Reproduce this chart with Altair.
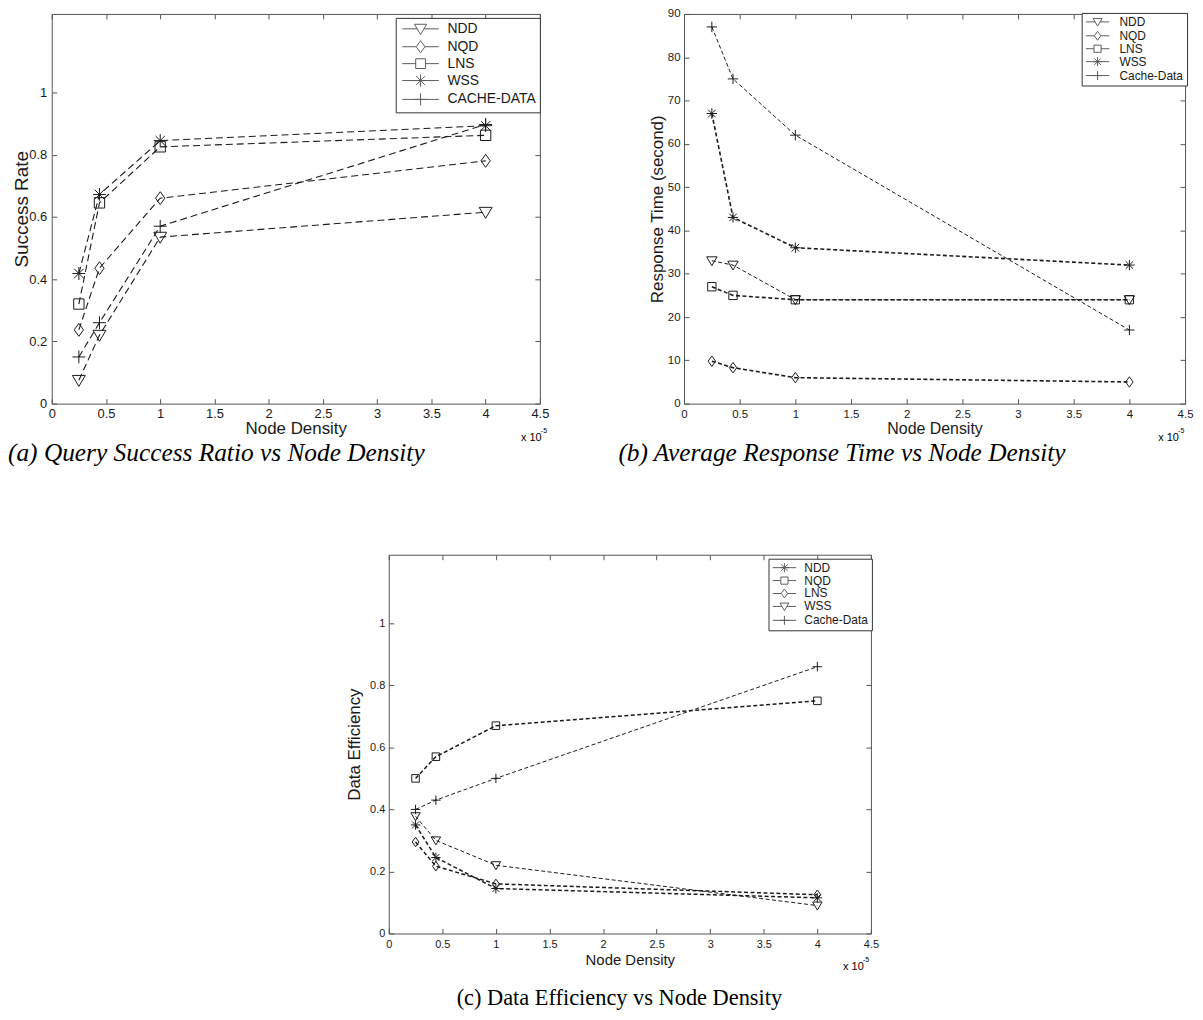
import altair as alt
import pandas as pd

# ---------------- data ----------------
x_vals = [0.25, 0.44, 1.0, 4.0]
x_ticks = [0, 0.5, 1, 1.5, 2, 2.5, 3, 3.5, 4, 4.5]

a_series = ["NDD", "NQD", "LNS", "WSS", "CACHE-DATA"]
a_ndd = [0.075, 0.22, 0.535, 0.615]
a_nqd = [0.237, 0.435, 0.66, 0.78]
a_lns = [0.32, 0.645, 0.825, 0.862]
a_wss = [0.418, 0.672, 0.845, 0.893]
a_cache = [0.15, 0.26, 0.57, 0.897]
a_y_ticks = [0, 0.2, 0.4, 0.6, 0.8, 1]

b_series = ["NDD", "NQD", "LNS", "WSS", "Cache-Data"]
b_ndd = [33, 32, 24, 24]
b_nqd = [9.8, 8.3, 6.0, 5.0]
b_lns = [27, 25, 24, 24]
b_wss = [67, 43, 36, 32]
b_cache = [87, 75, 62, 17]
b_y_ticks = [0, 10, 20, 30, 40, 50, 60, 70, 80, 90]

c_series = ["NDD", "NQD", "LNS", "WSS", "Cache-Data"]
c_ndd = [0.35, 0.245, 0.145, 0.115]
c_nqd = [0.5, 0.57, 0.67, 0.75]
c_lns = [0.295, 0.217, 0.16, 0.125]
c_wss = [0.378, 0.3, 0.22, 0.09]
c_cache = [0.4, 0.43, 0.5, 0.86]
c_y_ticks = [0, 0.2, 0.4, 0.6, 0.8, 1]

x_title = "Node Density"
a_y_title = "Success Rate"
b_y_title = "Response Time (second)"
c_y_title = "Data Efficiency"
cap_a = "(a) Query Success Ratio vs Node Density"
cap_b = "(b) Average Response Time vs Node Density"
cap_c = "(c) Data Efficiency vs Node Density"
exp_base = "x 10"
exp_sup = "-5"

# ---------------- style ----------------
W, H = 1194, 1004
SANS = "Liberation Sans"
SERIF = "Liberation Serif"
FRAME = "#555555"
INK = "#1a1a1a"

TRI = "M-1,-0.75L1,-0.75L0,0.95Z"
DIA = "M0,-1L0.72,0L0,1L-0.72,0Z"
SQ = "M-0.8,-0.8L0.8,-0.8L0.8,0.8L-0.8,0.8Z"
AST = "M-1,0L1,0M0,-1L0,1M-0.72,-0.72L0.72,0.72M-0.72,0.72L0.72,-0.72"
PLUS = "M-1,0L1,0M0,-1L0,1"
GAP = {TRI: 0.56, DIA: 0.72, SQ: 0.8, AST: 0.0, PLUS: 0.0}


def leg_path(p, L):
    g = GAP[p]
    return f"M{-L},0L{-g},0M{g},0L{L},0" + p


def long_df(series, values):
    rows = []
    for s, vals in zip(series, values):
        for xv, yv in zip(x_vals, vals):
            rows.append({"s": s, "x": xv, "y": yv})
    return pd.DataFrame(rows)


df_a = long_df(a_series, [a_ndd, a_nqd, a_lns, a_wss, a_cache])
df_b = long_df(b_series, [b_ndd, b_nqd, b_lns, b_wss, b_cache])
df_c = long_df(c_series, [c_ndd, c_nqd, c_lns, c_wss, c_cache])

PANELS = [
    dict(df=df_a, series=a_series, yticks=a_y_ticks, ytitle=a_y_title, fmt="~g",
         xr=[44, 535], yb=395, yt=3, ymax=1.252, size=169, dash=[7, 4],
         thin_w=1.1, bold=[], bold_w=1.1,
         lfs=13, xtfs=17, ytfs=19, lpx=4, lpy=5, tpx=0, tpy=-3,
         shapes=[TRI, DIA, SQ, AST, PLUS],
         leg=dict(x=390, y=7, fs=14, sym=150, symoff=14, laboff=20, rowpad=1, L=3.0, pad=4)),
    dict(df=df_b, series=b_series, yticks=b_y_ticks, ytitle=b_y_title, fmt="d",
         xr=[680, 1184], yb=395, yt=3, ymax=90, size=110, dash=[4, 2.5],
         thin_w=1.0, bold=["NQD", "LNS", "WSS"], bold_w=1.6,
         lfs=11.5, xtfs=16, ytfs=17, lpx=5, lpy=4, tpx=1, tpy=1,
         shapes=[TRI, DIA, SQ, AST, PLUS],
         leg=dict(x=1080, y=2, fs=12, sym=81, symoff=7, laboff=16, rowpad=0, L=2.6, pad=3)),
    dict(df=df_c, series=c_series, yticks=c_y_ticks, ytitle=c_y_title, fmt="~g",
         xr=[383, 868], yb=928, yt=547, ymax=1.221, size=90, dash=[4, 2.5],
         thin_w=1.0, bold=["NDD", "NQD", "LNS"], bold_w=1.5,
         lfs=11, xtfs=15, ytfs=17, lpx=5, lpy=4, tpx=3, tpy=6,
         shapes=[AST, SQ, DIA, TRI, PLUS],
         leg=dict(x=765, y=551, fs=12, sym=81, symoff=7, laboff=14, rowpad=0, L=2.6, pad=3)),
]

COMMON = dict(grid=False, domainColor=FRAME, tickColor=FRAME, domainWidth=1, tickWidth=1,
              labelFont=SANS, labelColor=INK, titleFont=SANS, titleColor=INK,
              titleFontWeight="normal")


def panel_layers(p):
    df = p["df"]
    xs = alt.Scale(domain=[0, 4.5], range=p["xr"], nice=False, zero=False)
    ys = alt.Scale(domain=[0, p["ymax"]], range=[p["yb"], p["yt"]], nice=False, zero=False)
    xl, xrgt = p["xr"]
    layers = []

    # main labelled axes (bottom / left)
    ax_x = alt.Axis(orient="bottom", offset=p["yb"] - H, values=x_ticks, format="~g",
                    title=x_title, labelFontSize=p["lfs"], titleFontSize=p["xtfs"],
                    tickSize=0, labelPadding=p["lpx"], titlePadding=p["tpx"],
                    labelFlush=False, labelOverlap=False, **COMMON)
    ax_y = alt.Axis(orient="left", offset=-xl, values=p["yticks"], format=p["fmt"],
                    title=p["ytitle"], labelFontSize=p["lfs"], titleFontSize=p["ytfs"],
                    tickSize=0, labelPadding=p["lpy"], titlePadding=p["tpy"],
                    labelFlush=False, labelOverlap=False, **COMMON)
    thin_df = df[~df["s"].isin(p["bold"])]
    layers.append(
        alt.Chart(thin_df).mark_line(strokeDash=p["dash"], color=INK, strokeWidth=p["thin_w"])
        .encode(x=alt.X("x:Q", scale=xs, axis=ax_x), y=alt.Y("y:Q", scale=ys, axis=ax_y),
                detail="s:N")
    )
    if p["bold"]:
        bold_df = df[df["s"].isin(p["bold"])]
        layers.append(
            alt.Chart(bold_df).mark_line(strokeDash=p["dash"], color=INK, strokeWidth=p["bold_w"])
            .encode(x=alt.X("x:Q", scale=xs, axis=None), y=alt.Y("y:Q", scale=ys, axis=None),
                    detail="s:N")
        )

    # inward ticks on bottom and left edges
    ax_x_in = alt.Axis(orient="top", offset=-p["yb"], values=x_ticks, labels=False, title=None,
                       tickSize=5, domain=False, **COMMON)
    ax_y_in = alt.Axis(orient="right", offset=xl - W, values=p["yticks"], labels=False, title=None,
                       tickSize=5, domain=False, **COMMON)
    layers.append(
        alt.Chart(df).mark_point(filled=False, size=p["size"], color=INK, strokeWidth=1, opacity=1)
        .encode(x=alt.X("x:Q", scale=xs, axis=ax_x_in), y=alt.Y("y:Q", scale=ys, axis=ax_y_in),
                shape=alt.Shape("s:N", scale=alt.Scale(domain=p["series"], range=p["shapes"]),
                                legend=None))
    )

    # top and right frame with inward ticks + legend
    ax_x_top = alt.Axis(orient="bottom", offset=p["yt"] - H, values=x_ticks, labels=False, title=None,
                        tickSize=5, domain=True, **COMMON)
    ax_y_rgt = alt.Axis(orient="left", offset=-xrgt, values=p["yticks"], labels=False, title=None,
                        tickSize=5, domain=True, **COMMON)
    lg = p["leg"]
    legend = alt.Legend(orient="none", legendX=lg["x"], legendY=lg["y"], title=None,
                        strokeColor="#333333", fillColor="white", padding=lg["pad"],
                        cornerRadius=0, labelFont=SANS, labelFontSize=lg["fs"], labelColor=INK,
                        symbolSize=lg["sym"], symbolStrokeColor=INK, symbolStrokeWidth=1,
                        symbolFillColor="transparent", symbolOffset=lg["symoff"],
                        labelOffset=lg["laboff"], rowPadding=lg["rowpad"])
    layers.append(
        alt.Chart(df).transform_filter("false")
        .mark_point(filled=False, size=lg["sym"], color=INK, strokeWidth=1)
        .encode(x=alt.X("x:Q", scale=xs, axis=ax_x_top), y=alt.Y("y:Q", scale=ys, axis=ax_y_rgt),
                shape=alt.Shape("s:N", scale=alt.Scale(domain=p["series"],
                                                        range=[leg_path(s, lg["L"]) for s in p["shapes"]]),
                                legend=legend))
    )
    return layers


def text_layer(txt, x, y, font, size, style="normal", align="left"):
    return alt.Chart(pd.DataFrame({"t": [txt]})).mark_text(
        font=font, fontSize=size, fontStyle=style, align=align, baseline="middle", color="black"
    ).encode(text="t:N", x=alt.value(x), y=alt.value(y))


layers = []
for p in PANELS:
    layers += panel_layers(p)

layers += [
    text_layer(cap_a, 0, 445, SERIF, 25.5, "italic"),
    text_layer(cap_b, 614, 445, SERIF, 25.5, "italic"),
    text_layer(cap_c, 615, 993, SERIF, 22.5, "normal", "center"),
    text_layer(exp_base, 516, 430, SANS, 11),
    text_layer(exp_sup, 536, 423, SANS, 7),
    text_layer(exp_base, 1157, 430, SANS, 11),
    text_layer(exp_sup, 1177, 423, SANS, 7),
    text_layer(exp_base, 840, 962, SANS, 11),
    text_layer(exp_sup, 860, 955, SANS, 7),
]

chart = (
    alt.layer(*layers)
    .resolve_scale(x="independent", y="independent", shape="independent")
    .resolve_axis(x="independent", y="independent")
    .resolve_legend(shape="independent")
    .properties(width=W, height=H, padding=0, autosize=alt.AutoSizeParams(type="none"))
    .configure_view(stroke=None)
)

chart.save("out.html", embed_options={"renderer": "svg", "actions": False})
